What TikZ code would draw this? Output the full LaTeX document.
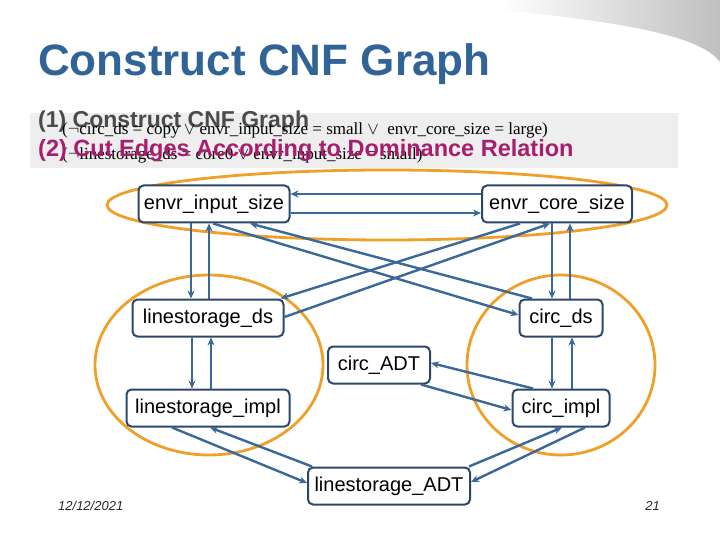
\documentclass[tikz,border=0pt]{standalone}
\usepackage{fontspec}
\setmainfont{Liberation Sans}
\newfontfamily\serifft{Liberation Serif}
\usetikzlibrary{arrows.meta,shapes.geometric}
\definecolor{titleblue}{RGB}{48,100,150}
\definecolor{nodeborder}{RGB}{44,72,104}
\definecolor{edgeblue}{RGB}{58,104,152}
\definecolor{ringorange}{RGB}{238,160,40}
\definecolor{stepgray}{RGB}{75,75,75}
\definecolor{cutmagenta}{RGB}{168,30,110}
\definecolor{bandgray}{RGB}{238,238,238}
\tikzset{
  nd/.style={draw=nodeborder, line width=2pt, rounded corners=5pt, fill=white,
    inner sep=0pt, font=\fontsize{20}{24}\selectfont, text=black},
  edge/.style={draw=edgeblue, line width=2.4pt, -{Stealth[length=8pt,width=7pt]}},
  ring/.style={draw=ringorange, line width=2.8pt},
}
\begin{document}
\begin{tikzpicture}[x=1pt,y=-1pt]
\useasboundingbox (0,0) rectangle (720,540);
% top-right swoosh
\shade[left color=white, right color=black!25]
  (500,0) -- (720,0) -- (720,62) .. controls (700,35) and (620,22) .. (500,10) -- cycle;
% title
\node[anchor=base west, inner sep=0pt, text=titleblue,
  font=\fontsize{44}{50}\selectfont\bfseries] (title) at (38,76) {Construct CNF Graph};
% grey band
\fill[bandgray] (30,113) rectangle (678,168);
% step texts
\node[anchor=base west, inner sep=0pt, text=stepgray,
  font=\fontsize{23}{28}\selectfont\bfseries] (s1) at (38,128) {(1) Construct CNF Graph};
\node[anchor=base west, inner sep=0pt, text=black,
  font=\serifft\fontsize{17}{20}\selectfont] (c1) at (62,135)
  {(\ensuremath{\neg}circ\_ds = copy \ensuremath{\vee} envr\_input\_size = small \ensuremath{\vee}\ \ envr\_core\_size = large)};
\node[anchor=base west, inner sep=0pt, text=black,
  font=\serifft\fontsize{17}{20}\selectfont] (c2) at (62,160)
  {(\ensuremath{\neg}linestorage\_ds = core0 \ensuremath{\vee} envr\_input\_size = small)};
\node[anchor=base west, inner sep=0pt, text=cutmagenta,
  font=\fontsize{23.5}{28}\selectfont\bfseries] (s2) at (38,157) {(2) Cut Edges According to Dominance Relation};
% rings
\draw[ring] (387,205) ellipse [x radius=280, y radius=35];
\draw[ring] (209,365) ellipse [x radius=114, y radius=90];
\draw[ring] (561,365) ellipse [x radius=94, y radius=90];
% nodes
\node[nd, minimum width=151, minimum height=37] (eis) at (214,204) {envr\_input\_size};
\node[nd, minimum width=150, minimum height=37] (ecs) at (557,204) {envr\_core\_size};
\node[nd, minimum width=151, minimum height=37] (lds) at (208,318) {linestorage\_ds};
\node[nd, minimum width=83, minimum height=37] (cds) at (561,318) {circ\_ds};
\node[nd, minimum width=102, minimum height=37] (cadt) at (379,365) {circ\_ADT};
\node[nd, minimum width=163, minimum height=37] (limp) at (208,408) {linestorage\_impl};
\node[nd, minimum width=97, minimum height=37] (cimp) at (561,408) {circ\_impl};
\node[nd, minimum width=162, minimum height=37] (ladt) at (389,486) {linestorage\_ADT};
% edges top
\draw[edge] ([yshift=10]ecs.west) -- ([yshift=10]eis.east);
\draw[edge] ([yshift=-9]eis.east) -- ([yshift=-9]ecs.west);
\draw[edge] ([xshift=-23]eis.south) -- ([xshift=-17]lds.north);
\draw[edge] ([xshift=1]lds.north) -- ([xshift=-5]eis.south);
\draw[edge] ([xshift=-5]ecs.south) -- ([xshift=-9]cds.north);
\draw[edge] ([xshift=9]cds.north) -- ([xshift=13]ecs.south);
% crossing edges
\draw[edge] ([xshift=-29]cds.north) -- ([xshift=36]eis.south);
\draw[edge] ([xshift=-1]eis.south) -- ([yshift=3]cds.west);
\draw[edge] ([yshift=1]lds.east) -- ([xshift=-7]ecs.south);
\draw[edge] ([xshift=-37]ecs.south) -- ([xshift=-4]lds.north east);
% middle
\draw[edge] ([xshift=-16]lds.south) -- ([xshift=-16]limp.north);
\draw[edge] ([xshift=3]limp.north) -- ([xshift=3]lds.south);
\draw[edge] ([xshift=-9]cds.south) -- ([xshift=-9]cimp.north);
\draw[edge] ([xshift=11]cimp.north) -- ([xshift=11]cds.south);
\draw[edge] ([xshift=-28]cimp.north) -- ([yshift=2]cadt.east);
\draw[edge] ([xshift=-10]cadt.south east) -- ([yshift=-2]cimp.west);
% bottom
\draw[edge] ([xshift=-36]limp.south) -- ([yshift=3]ladt.west);
\draw[edge] ([xshift=5]ladt.north west) -- ([xshift=2]limp.south);
\draw[edge] ([xshift=-2]ladt.north east) -- ([xshift=1]cimp.south);
\draw[edge] ([xshift=24]cimp.south) -- ([yshift=4]ladt.east);
% footer
\node[anchor=base west, inner sep=0pt, text=black!85,
  font=\fontsize{13}{15}\selectfont\itshape] (date) at (58,510) {12/12/2021};
\node[anchor=base east, inner sep=0pt, text=black!85,
  font=\fontsize{13}{15}\selectfont\itshape] (page) at (660,510) {21};
\end{tikzpicture}
\end{document}
